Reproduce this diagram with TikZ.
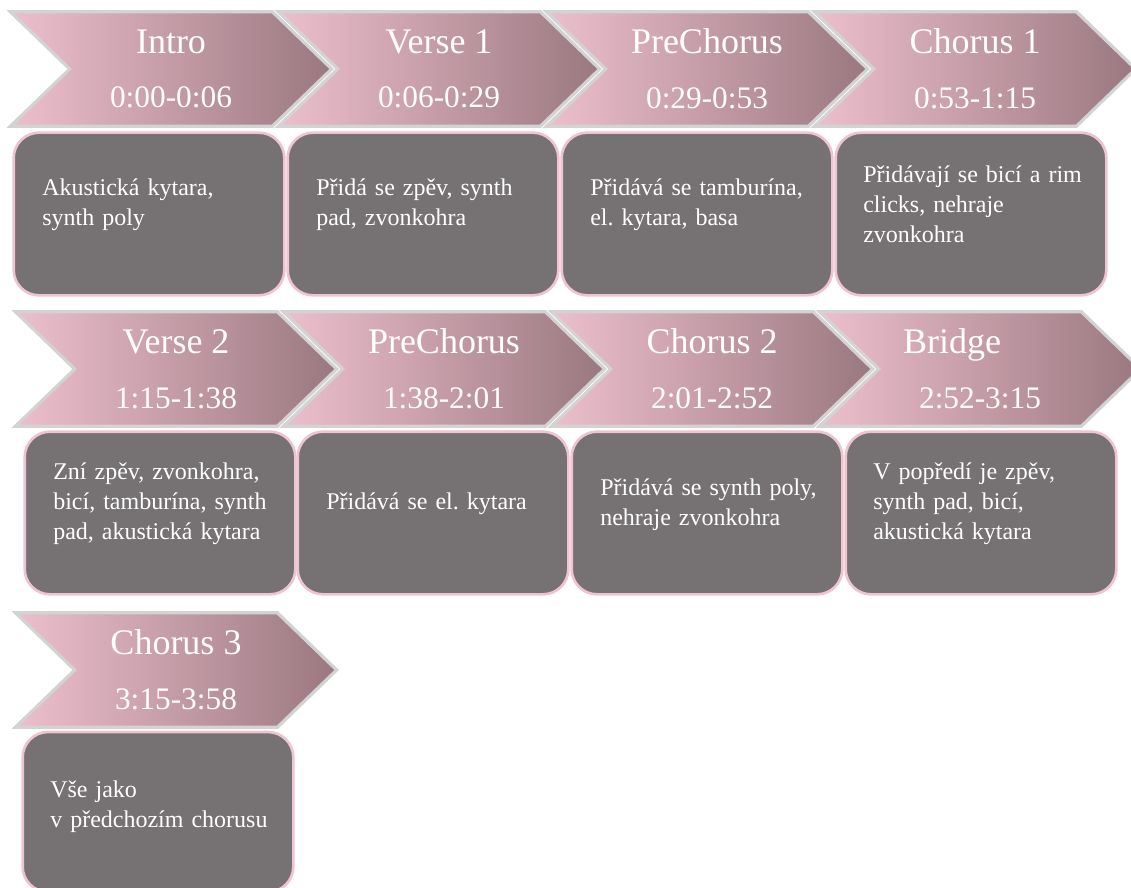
\documentclass[tikz,border=0pt]{standalone}
\usepackage{fontspec}
\setmainfont{Liberation Serif}
\usepackage{xcolor}
\usepackage{tikz}
\usetikzlibrary{shapes,shapes.symbols,positioning,calc}
\definecolor{chevpink}{HTML}{EDBFCD}
\definecolor{chevmauve}{HTML}{9A7880}
\definecolor{chevedge}{HTML}{D3D3D3}
\definecolor{boxgray}{HTML}{767273}
\definecolor{boxedge}{HTML}{F0C3D0}
\newcommand{\TimeSize}{\fontsize{23.5}{41}\selectfont}
\frenchspacing

\begin{document}
\begin{tikzpicture}[
    x=0.75pt, y=-0.75pt,
    part/.style={signal, signal from=west, signal to=east, signal pointer angle=88, draw=chevedge, line width=2.4pt, left color=chevpink, right color=chevmauve, minimum width=241pt, minimum height=86pt, inner sep=0pt, text=white, align=center, font=\fontsize{27}{41}\selectfont},
    note/.style={rectangle, draw=boxedge, line width=2pt, rounded corners=19pt, fill=boxgray, minimum width=203pt, minimum height=122pt},
    txt/.style={anchor=west, text=white, text width=170pt, align=left, inner sep=0pt, font=\fontsize{18}{22.5}\selectfont}
]
    \useasboundingbox (0,0) rectangle (1131,888);

    % Row 1
    \node[part] (intro) at (171,69) {Intro\\{\TimeSize 0:00-0:06}};
    \node[part] (verse1) at (439,69) {Verse 1\\{\TimeSize 0:06-0:29}};
    \node[part] (pre1) at (707,69) {PreChorus\\{\TimeSize 0:29-0:53}};
    \node[part] (chorus1) at (975,69) {Chorus 1\\{\TimeSize 0:53-1:15}};

    \node[note] (introbox) at (149,214) {};
    \node[note] (verse1box) at (423,214) {};
    \node[note] (pre1box) at (697,214) {};
    \node[note] (chorus1box) at (971,214) {};
    \node[txt] (introtxt) at (42,205) {Akustická kytara,\\synth poly};
    \node[txt] (verse1txt) at (316,205) {Přidá se zpěv, synth\\pad, zvonkohra};
    \node[txt] (pre1txt) at (590,205) {Přidává se tamburína,\\el. kytara, basa};
    \node[txt] (chorus1txt) at (863,204) {Přidávají se bicí a rim\\clicks, nehraje\\zvonkohra};

    % Row 2
    \node[part] (verse2) at (176,369) {Verse 2\\{\TimeSize 1:15-1:38}};
    \node[part] (pre2) at (444,369) {PreChorus\\{\TimeSize 1:38-2:01}};
    \node[part] (chorus2) at (712,369) {Chorus 2\\{\TimeSize 2:01-2:52}};
    \node[part] (bridge) at (980,369) {Bridge\hbox to 42pt{}\\{\TimeSize 2:52-3:15}};

    \node[note] (verse2box) at (160,513) {};
    \node[note] (pre2box) at (433,513) {};
    \node[note] (chorus2box) at (707,513) {};
    \node[note] (bridgebox) at (981,513) {};
    \node[txt] (verse2txt) at (53,504) {Zní zpěv, zvonkohra,\\bicí, tamburína, synth\\pad, akustická kytara};
    \node[txt] (pre2txt) at (326,504) {Přidává se el. kytara};
    \node[txt] (chorus2txt) at (600,505) {Přidává se synth poly,\\nehraje zvonkohra};
    \node[txt] (bridgetxt) at (873,504) {V popředí je zpěv,\\synth pad, bicí,\\akustická kytara};

    % Row 3
    \node[part] (chorus3) at (176,670) {Chorus 3\\{\TimeSize 3:15-3:58}};
    \node[note, minimum height=120pt] (chorus3box) at (158,812) {};
    \node[txt] (chorus3txt) at (50,807) {Vše jako\\v předchozím chorusu};

\end{tikzpicture}
\end{document}
